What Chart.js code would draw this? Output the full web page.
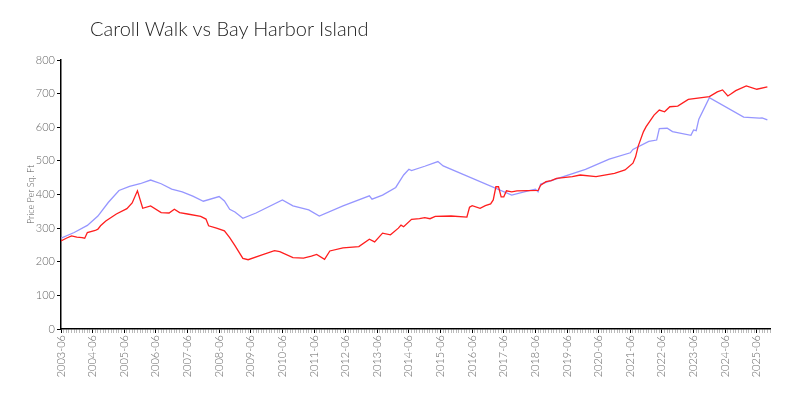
<!DOCTYPE html>
<html>
<head>
<meta charset="utf-8">
<script src="https://cdn.jsdelivr.net/npm/chart.js@4.4.1/dist/chart.umd.min.js"></script>
<style>
  body { margin: 0; background: #fff; }
  #contenedor { position: relative; width: 800px; height: 400px; }
  #titulo { position: absolute; left: 90px; top: 16px; font: 300 20px Lato, sans-serif; color: #222; white-space: nowrap; }
</style>
</head>
<body>
<div id="contenedor">
  <div id="titulo">Caroll Walk vs Bay Harbor Island</div>
  <canvas id="grafico" width="800" height="400"></canvas>
</div>
<script>
// months counted from 2003-06
const primerAnio = 2003;
const mesesRojo = [0, 2, 4, 6, 8, 9, 10, 13, 14, 15, 17, 21, 25, 27, 29, 31, 34, 38, 41, 43, 45, 48, 53, 55, 56, 59, 62, 64, 66, 69, 71, 76, 81, 83, 88, 92, 95, 97, 100, 102, 107, 113, 117, 119, 122, 125, 128, 129, 130, 133, 136, 138, 140, 142, 148, 154, 155, 156, 159, 161, 163, 164, 165, 166, 167, 168, 169, 171, 173, 181, 182, 184, 186, 188, 194, 197, 203, 210, 214, 217, 218, 219, 221, 222, 225, 227, 229, 231, 234, 238, 246, 249, 251, 253, 254, 256, 260, 264, 268];
const valoresRojo = [262, 270, 277, 273, 272, 270, 287, 293, 297, 307, 321, 342, 358, 375, 411, 359, 366, 346, 345, 356, 346, 342, 335, 327, 307, 300, 292, 272, 248, 210, 206, 220, 233, 230, 212, 211, 217, 222, 207, 232, 241, 245, 267, 259, 285, 280, 300, 309, 304, 326, 328, 331, 328, 335, 336, 333, 362, 367, 359, 367, 372, 384, 423, 423, 393, 393, 411, 408, 411, 412, 428, 438, 441, 448, 453, 458, 453, 463, 473, 493, 512, 544, 587, 602, 636, 651, 646, 661, 663, 683, 691, 705, 711, 693, 698, 709, 723, 713, 720];

const mesesAzul = [0, 5, 10, 14, 18, 22, 26, 30, 34, 38, 42, 46, 50, 54, 60, 62, 64, 66, 69, 74, 84, 88, 91, 94, 98, 107, 117, 118, 122, 127, 130, 132, 133, 138, 143, 145, 171, 178, 180, 181, 182, 199, 208, 216, 217, 223, 226, 227, 230, 232, 239, 240, 241, 242, 246, 259, 265, 266, 268];
const valoresAzul = [270, 287, 308, 336, 377, 412, 424, 432, 443, 432, 416, 408, 395, 380, 394, 381, 356, 348, 329, 345, 384, 366, 360, 354, 336, 366, 396, 386, 398, 421, 458, 475, 471, 484, 498, 485, 398, 412, 416, 408, 431, 475, 505, 524, 534, 558, 562, 596, 597, 587, 576, 592, 590, 624, 688, 630, 627, 628, 622];

const ticksY = [0, 100, 200, 300, 400, 500, 600, 700, 800];

const fuente = 'Lato, sans-serif';

function puntos(meses, valores) {
    return meses.map((m, i) => ({ x: m, y: valores[i] }));
}

function etiquetaMes(m) {
    if (m % 12 !== 0) return '';
    return `${primerAnio + m / 12}-06`;
}

const ctx = document.getElementById('grafico').getContext('2d');

new Chart(ctx, {
    type: 'line',
    data: {
        datasets: [{
            label: 'Caroll Walk',
            data: puntos(mesesRojo, valoresRojo),
            borderColor: 'rgb(255, 30, 30)',
            borderWidth: 1.3,
            pointRadius: 0,
            fill: false
        }, {
            label: 'Bay Harbor Island',
            data: puntos(mesesAzul, valoresAzul),
            borderColor: 'rgb(150, 150, 255)',
            borderWidth: 1.3,
            pointRadius: 0,
            fill: false
        }]
    },
    options: {
        responsive: false,
        animation: false,
        layout: { padding: { top: 60, right: 30, left: 26, bottom: 0 } },
        plugins: {
            legend: { display: false },
            tooltip: { enabled: false }
        },
        scales: {
            x: {
                type: 'linear',
                min: 0,
                max: 269,
                afterFit: s => { s.height = 71; },
                border: { display: true, color: '#000', width: 1.5 },
                grid: {
                    drawOnChartArea: false,
                    tickLength: 4,
                    color: c => (c.tick && c.tick.value % 12 === 0) ? '#000' : '#bbb'
                },
                ticks: {
                    stepSize: 1,
                    autoSkip: false,
                    maxTicksLimit: 1000,
                    minRotation: 90,
                    maxRotation: 90,
                    padding: 2,
                    color: '#666',
                    font: { family: fuente, size: 11, weight: '300' },
                    callback: v => etiquetaMes(v)
                }
            },
            y: {
                min: 0,
                max: 800,
                afterFit: s => { s.width = 35; },
                border: { display: true, color: '#000', width: 1.5 },
                grid: { drawOnChartArea: false, tickLength: 4, color: '#000' },
                ticks: {
                    stepSize: 100,
                    padding: 2,
                    color: '#666',
                    font: { family: fuente, size: 11, weight: '300' },
                    callback: v => ticksY.includes(v) ? String(v) : ''
                },
                title: {
                    display: true,
                    text: 'Price Per Sq. Ft',
                    color: '#555',
                    padding: 0,
                    font: { family: fuente, size: 9, weight: '300' }
                }
            }
        }
    }
});
</script>
</body>
</html>
